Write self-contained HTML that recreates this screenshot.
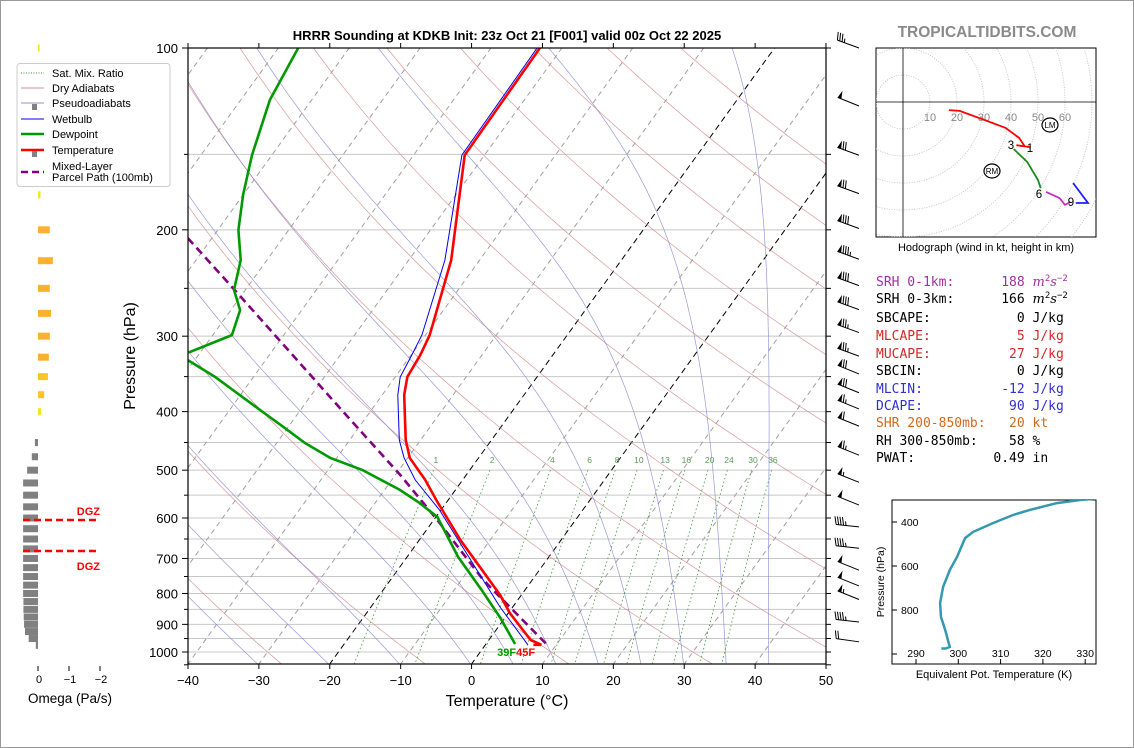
<!DOCTYPE html>
<html><head><meta charset="utf-8"><style>
html,body{margin:0;padding:0;background:#fff;}
svg{display:block;font-family:"Liberation Sans","DejaVu Sans",sans-serif;}
.mono{font-family:"DejaVu Sans Mono","Liberation Mono",monospace;}
</style></head><body>
<svg id="chart" width="1134" height="748" viewBox="0 0 1134 748" xmlns="http://www.w3.org/2000/svg">
<defs>
<clipPath id="plotclip"><rect x="188" y="48" width="638" height="616"/></clipPath>
<clipPath id="hodoclip"><rect x="876" y="48" width="220" height="189"/></clipPath>
<clipPath id="theclip"><rect x="892" y="500" width="204" height="164"/></clipPath>
</defs>
<rect x="0.5" y="0.5" width="1133" height="747" fill="#fff" stroke="#999"/>
<text x="507" y="40" text-anchor="middle" font-size="13" font-weight="bold">HRRR Sounding at KDKB Init: 23z Oct 21 [F001] valid 00z Oct 22 2025</text>
<text x="987" y="37" text-anchor="middle" font-size="15.5" font-weight="bold" fill="#8a8a8a">TROPICALTIDBITS.COM</text>
<g id="bg" clip-path="url(#plotclip)"></g>
<g id="series" clip-path="url(#plotclip)"></g>
<g id="axes"></g>
<text x="0" y="0" transform="translate(135,356) rotate(-90)" text-anchor="middle" font-size="16">Pressure (hPa)</text>
<text x="507" y="706" text-anchor="middle" font-size="16">Temperature (°C)</text>
<g id="omega"></g>
<text x="70" y="703" text-anchor="middle" font-size="13.5">Omega (Pa/s)</text>
<g id="legend"></g>
<g id="barbs"></g>
<g id="hodo"></g>
<text x="986" y="251" text-anchor="middle" font-size="11">Hodograph (wind in kt, height in km)</text>
<g class="mono" font-size="13">
<text x="876" y="286" fill="#a030a0" xml:space="preserve">SRH 0-1km:      188 <tspan font-style="italic" font-family="DejaVu Serif,serif">m</tspan><tspan font-size="9" dy="-5">2</tspan><tspan font-style="italic" dy="5" font-family="DejaVu Serif,serif">s</tspan><tspan font-size="9" dy="-5">−2</tspan></text>
<text x="876" y="303" fill="#000" xml:space="preserve">SRH 0-3km:      166 <tspan font-style="italic" font-family="DejaVu Serif,serif">m</tspan><tspan font-size="9" dy="-5">2</tspan><tspan font-style="italic" dy="5" font-family="DejaVu Serif,serif">s</tspan><tspan font-size="9" dy="-5">−2</tspan></text>
<text x="876" y="322" fill="#000" xml:space="preserve">SBCAPE:           0 J/kg</text>
<text x="876" y="340" fill="#d62728" xml:space="preserve">MLCAPE:           5 J/kg</text>
<text x="876" y="358" fill="#d62728" xml:space="preserve">MUCAPE:          27 J/kg</text>
<text x="876" y="375" fill="#000" xml:space="preserve">SBCIN:            0 J/kg</text>
<text x="876" y="393" fill="#3030d0" xml:space="preserve">MLCIN:          -12 J/kg</text>
<text x="876" y="410" fill="#3030d0" xml:space="preserve">DCAPE:           90 J/kg</text>
<text x="876" y="427" fill="#d2691e" xml:space="preserve">SHR 200-850mb:   20 kt</text>
<text x="876" y="445" fill="#000" xml:space="preserve">RH 300-850mb:    58 %</text>
<text x="876" y="462" fill="#000" xml:space="preserve">PWAT:          0.49 in</text>
</g>
<g id="thetae"></g>
<text x="0" y="0" transform="translate(884,582) rotate(-90)" text-anchor="middle" font-size="10.5">Pressure (hPa)</text>
<text x="994" y="678" text-anchor="middle" font-size="11">Equivalent Pot. Temperature (K)</text>
</svg>
<script>
// ---- data ----
const tempP=[100,150.4,224.5,298.8,322.3,350.5,375.4,445.7,477.3,518.8,560,652.5,804.8,861.8,955.6,973];
const tempT=[-53.1,-52.8,-44.0,-39.4,-38.7,-38.3,-36.9,-32.1,-29.7,-25.3,-21.7,-14.2,-3.0,0.2,5.9,7.9];
const dewP=[100,121.9,150.4,175.1,200.1,224.5,251.6,271.6,298.8,318.6,325,328.5,350.5,397.5,425.6,450.8,477.3,499.5,539.2,566.8,597.6,696,789.7,875.2,970];
const dewT=[-87.2,-85.9,-82.8,-80,-77.1,-73.7,-71.6,-68.7,-67.3,-71.5,-80,-71,-65.4,-55.7,-50.4,-46,-40.9,-35.2,-27.8,-23.7,-19.8,-12.8,-6.1,-0.8,4.1];
const wetP=[100,150.4,224.5,298.8,322.3,350.5,375.4,445.7,477.3,518.8,582,842.3,973];
const wetT=[-53.5,-53.2,-44.9,-40.5,-39.9,-39.3,-37.8,-33,-30.5,-26.7,-20.2,-1.8,6.0];
const parcelP=[206.4,251.6,310.2,397.5,509.3,604.6,760,973];
const parcelT=[-83.4,-71.5,-59.0,-44.2,-29.3,-19.5,-6.9,8.7];
const xTicks=[-40,-30,-20,-10,0,10,20,30,40,50];
const pTicks=[100,200,300,400,500,600,700,800,900,1000];
const mixRatios=[1,2,4,6,8,10,13,16,20,24,30,36];
const omegaP=[100,175,200,225,250,275,300,325,350,375,400,450,475,500,525,550,575,600,625,650,675,700,725,750,775,800,825,850,875,900,925,950,975];
const omegaV=[-0.05,-0.08,-0.38,-0.48,-0.38,-0.42,-0.38,-0.35,-0.32,-0.2,-0.1,0.1,0.2,0.35,0.48,0.48,0.48,0.48,0.48,0.48,0.48,0.48,0.48,0.48,0.48,0.48,0.47,0.47,0.46,0.45,0.42,0.3,0.07];
const omegaTicks=[0,-1,-2];
const barbP=[97,121,146,169,193,217,240,263,287,314,336,361,384,410,458,508,554,602,653,710,754,794,865,933];
const barbSpd=[35,50,70,70,80,85,80,80,75,75,70,70,65,60,65,55,50,45,45,50,50,55,45,20];
const barbDir=[290,292,290,290,290,290,290,290,290,290,292,292,292,292,292,292,292,276,276,292,292,292,276,278];
const hodoSeg1U=[17,21,30,38,43,45];
const hodoSeg1V=[-3,-3.3,-6.6,-9.6,-13.3,-16.3];
const hodoSeg2U=[47,42];
const hodoSeg2V=[-16.7,-16];
const hodoSeg3U=[41,46,50,51];
const hodoSeg3V=[-17.4,-22.2,-28.9,-31.9];
const hodoSeg4U=[53,58,60,62];
const hodoSeg4V=[-33.3,-35.6,-38.1,-37];
const hodoSeg5U=[64,68.5,63];
const hodoSeg5V=[-37.4,-37.4,-30];
const hodoRingLabels=[10,20,30,40,50,60];
const thetaE=[297,298.0,296.9,295.9,295.7,296.4,298.0,299.7,301.6,303.5,308.2,312.9,316.9,323.3,328.8,335];
const thetaEP=[975,968,891,832,768,695,618,559,473,445,405,368,345,314,300,290];
const thetaXTicks=[290,300,310,320,330];
const thetaYTicks=[400,600,800,1000];

// ---- helpers ----
const NS='http://www.w3.org/2000/svg';
function mk(parent,tag,attrs){const e=document.createElementNS(NS,tag);for(const k in attrs)e.setAttribute(k,attrs[k]);parent.appendChild(e);return e;}
function yP(p){return 48+604*Math.log10(p/100);}
function xT(T,p){return 188+(T+40)*7.089+(664-yP(p))*0.722;}
function pathTP(Ps,Ts){let d='';for(let i=0;i<Ps.length;i++)d+=(i?'L':'M')+xT(Ts[i],Ps[i]).toFixed(1)+','+yP(Ps[i]).toFixed(1);return d;}
function pathFn(f,p0,p1,step){let d='',first=true;for(let p=p0;step>0?p<=p1+1e-6:p>=p1-1e-6;p+=step){const T=f(p);d+=(first?'M':'L')+xT(T,p).toFixed(1)+','+yP(p).toFixed(1);first=false;}return d;}
function es(Tc){return 6.112*Math.exp(17.67*Tc/(Tc+243.5));}

const bg=document.getElementById('bg');
for(let p=100;p<=1050;p+=50){
  const l=mk(bg,'line',{x1:188,x2:826,y1:yP(p),y2:yP(p),stroke:'#c8c8c8','stroke-width':1});
  
  
}
for(let T=-130;T<=50;T+=10){
  const black=(T===0||T===-20);
  const l=mk(bg,'line',{x1:xT(T,1050),y1:yP(1050),x2:xT(T,100),y2:yP(100),stroke:black?'#000':'#a0a0a0','stroke-width':1,'stroke-dasharray':black?'6,4':'5,4'});
  
  
}
for(let th=-30;th<=200;th+=20){
  const f=p=>(th+273.15)*Math.pow(p/1000,0.2857)-273.15;
  const l=mk(bg,'path',{d:pathFn(f,100,1050,10),fill:'none',stroke:'#d08080','stroke-width':0.7,'stroke-opacity':0.8});
  
  
}
function moist(T0){
  const Rd=287.04,Cp=1005.7,Lv=2.501e6,eps=0.622;
  function dTdp(T,p){const Tc=T-273.15;const e=es(Tc);const rs=eps*e/(p-e);return (Rd*T+Lv*rs)/(Cp+Lv*Lv*rs*eps/(Rd*T*T))/p;}
  const pts=[];let T=T0+273.15;
  for(let p=1050;p>=100;p-=5){pts.push([p,T-273.15]);T-=dTdp(T,p)*5;}
  return pts;
}
[-30,-20,-10,0,6,12,18,24,30,36,42].forEach(t0=>{
  const pts=moist(t0);
  let d='';pts.forEach((q,i)=>{d+=(i?'L':'M')+xT(q[1],q[0]).toFixed(1)+','+yP(q[0]).toFixed(1);});
  const l=mk(bg,'path',{d:d,fill:'none',stroke:'#8080d0','stroke-width':0.7,'stroke-opacity':0.8});
  
  
});
mixRatios.forEach(w=>{
  const f=p=>{const e=w*p/(622+w);const a=Math.log(e/6.112);return 243.5*a/(17.67-a);};
  const l=mk(bg,'path',{d:pathFn(f,500,1050,10),fill:'none',stroke:'#3a9a3a','stroke-width':0.8,'stroke-dasharray':'1.5,2.5'});
  
  
  const t=mk(bg,'text',{x:xT(f(490),490),y:yP(490)-2,'text-anchor':'middle','font-size':8.5,fill:'#5a9a5a'});
  t.textContent=w;
  
  
});

const sr=document.getElementById('series');
let s=mk(sr,'path',{d:pathTP(parcelP,parcelT),fill:'none',stroke:'#800080','stroke-width':2.6,'stroke-dasharray':'8,5'});


s=mk(sr,'path',{d:pathTP(dewP,dewT),fill:'none',stroke:'#009a00','stroke-width':2.6});


s=mk(sr,'path',{d:pathTP(wetP,wetT),fill:'none',stroke:'#0000ee','stroke-width':1});


s=mk(sr,'path',{d:pathTP(tempP,tempT),fill:'none',stroke:'#ff0000','stroke-width':2.6});


const lastP=tempP[tempP.length-1];
s=mk(sr,'path',{d:'M'+(xT(tempT[tempT.length-1],lastP)-8)+','+yP(lastP)+'h8',stroke:'#ff0000','stroke-width':2.6,fill:'none'});


let lb=mk(sr,'text',{x:xT(dewT[dewT.length-1],975)+2,y:656,'text-anchor':'end','font-size':11,'font-weight':'bold',fill:'#009a00'});
lb.textContent='39F';


lb=mk(sr,'text',{x:xT(dewT[dewT.length-1],975)+2,y:656,'text-anchor':'start','font-size':11,'font-weight':'bold',fill:'#ff0000'});
lb.textContent='45F';



const ax=document.getElementById('axes');
let fr=mk(ax,'rect',{x:188,y:48,width:638,height:616,fill:'none',stroke:'#000','stroke-width':1.2});


xTicks.forEach(T=>{
  const x=188+(T+40)*7.089;
  let l=mk(ax,'line',{x1:x,x2:x,y1:664,y2:669,stroke:'#000'});
  
  
  l=mk(ax,'line',{x1:x,x2:x,y1:48,y2:43,stroke:'#000'});
  
  
  const t=mk(ax,'text',{x:x,y:685,'text-anchor':'middle','font-size':13});
  t.textContent=(T<0?'\u2212'+(-T):T);
  
  
});
for(let p=100;p<=1050;p+=50){
  const major=pTicks.includes(p);
  let l=mk(ax,'line',{x1:188,x2:major?182:184,y1:yP(p),y2:yP(p),stroke:'#000'});
  
  
  l=mk(ax,'line',{x1:826,x2:831,y1:yP(p),y2:yP(p),stroke:'#000'});
  
  
}
pTicks.forEach(p=>{
  const t=mk(ax,'text',{x:178,y:yP(p)+5,'text-anchor':'end','font-size':13});
  t.textContent=p;
  
  
});

const om=document.getElementById('omega');
const ox0=38,oScale=31;
function omegaColor(v){if(v>=0)return '#808080';const a=Math.min(1,-v/0.5);return a<0.3?'#f5e61e':(a<0.7?'#fcc42a':'#fbb030');}
omegaP.forEach((p,i)=>{
  const v=omegaV[i];const w=Math.abs(v)*oScale;
  const x=v>=0?ox0-w:ox0;
  const r=mk(om,'rect',{x:x,y:yP(p)-3.5,width:Math.max(w,1.5),height:7,fill:omegaColor(v)});
  
  
});
omegaTicks.forEach(v=>{
  const x=ox0-v*oScale;
  let l=mk(om,'line',{x1:x,x2:x,y1:666,y2:671,stroke:'#000'});
  
  
  const t=mk(om,'text',{x:x+1,y:683,'text-anchor':'middle','font-size':11});
  t.textContent=v===0?'0':'\u2212'+(-v);
  
  
});
[[520,511],[551,566]].forEach(q=>{
  const l=mk(om,'line',{x1:23,x2:98,y1:q[0],y2:q[0],stroke:'#ff0000','stroke-width':2.5,'stroke-dasharray':'7,4'});
  
  
  const t=mk(om,'text',{x:100,y:q[1]+4,'text-anchor':'end','font-size':11,'font-weight':'bold',fill:'#ff0000'});
  t.textContent='DGZ';
  
  
});

const lg=document.getElementById('legend');
let lr=mk(lg,'rect',{x:17,y:63.5,width:153,height:123,rx:3,fill:'#fff','fill-opacity':0.85,stroke:'#ccc'});


const legItems=[
 ['Sat. Mix. Ratio',73,{stroke:'#3a9a3a','stroke-width':1,'stroke-dasharray':'1,1.5'},false],
 ['Dry Adiabats',88,{stroke:'#d09090','stroke-width':1},false],
 ['Pseudoadiabats',103,{stroke:'#9090d0','stroke-width':1},true],
 ['Wetbulb',119,{stroke:'#0000ee','stroke-width':1},false],
 ['Dewpoint',134,{stroke:'#009a00','stroke-width':2.6},false],
 ['Temperature',150,{stroke:'#ff0000','stroke-width':2.6},true],
 ['Mixed-Layer',166,{stroke:'#800080','stroke-width':2.6,'stroke-dasharray':'7,4'},false]
];
legItems.forEach(it=>{
  const ly=it[0]==='Mixed-Layer'?172:it[1];
  const a=Object.assign({x1:21,x2:44,y1:ly,y2:ly},it[2]);
  const l=mk(lg,'line',a);
  
  
  if(it[3]){const m=mk(lg,'rect',{x:32,y:ly+1,width:5,height:6,fill:'#808080'});
    
    }
  const t=mk(lg,'text',{x:52,y:it[1]+4,'font-size':11});
  t.textContent=it[0];
  
  
});
let lt=mk(lg,'text',{x:52,y:181,'font-size':11});
lt.textContent='Parcel Path (100mb)';



const bb=document.getElementById('barbs');
barbP.forEach((p,i)=>{
  const spd=barbSpd[i],dir=barbDir[i]*Math.PI/180;
  const bx=859,by=yP(p)+8;
  const L=23;
  const ex=Math.sin(dir),ey=-Math.cos(dir);
  const tx=bx+ex*L, ty=by+ey*L;
  const px=-ey,py=ex;
  const g=mk(bb,'g',{});
  
  
  mk(g,'line',{x1:bx,y1:by,x2:tx,y2:ty,stroke:'#000','stroke-width':1});
  let rem=Math.round(spd/5)*5,pos=0;
  const fl=8;
  while(rem>=50){
    const ax1=tx-ex*pos,ay1=ty-ey*pos;
    const ax2=tx-ex*(pos+4),ay2=ty-ey*(pos+4);
    mk(g,'polygon',{points:`${ax1},${ay1} ${ax1+px*fl-ex*2},${ay1+py*fl-ey*2} ${ax2},${ay2}`,fill:'#000'});
    pos+=5;rem-=50;
  }
  if(pos>0)pos+=1;
  while(rem>=10){
    const ax1=tx-ex*pos,ay1=ty-ey*pos;
    mk(g,'line',{x1:ax1,y1:ay1,x2:ax1+px*fl+ex*2,y2:ay1+py*fl+ey*2,stroke:'#000','stroke-width':1});
    pos+=2.5;rem-=10;
  }
  if(rem>=5){
    if(pos===0)pos=2.5;
    const ax1=tx-ex*pos,ay1=ty-ey*pos;
    mk(g,'line',{x1:ax1,y1:ay1,x2:ax1+px*fl*0.5+ex,y2:ay1+py*fl*0.5+ey,stroke:'#000','stroke-width':1});
  }
});

const hd=document.getElementById('hodo');
const hx0=903,hy0=102,hs=2.7;
const hb=mk(hd,'rect',{x:876,y:48,width:220,height:189,fill:'#fff',stroke:'#000','stroke-width':1});


const hg=mk(hd,'g',{'clip-path':'url(#hodoclip)'});


for(let r=10;r<=90;r+=10){
  const c=mk(hg,'circle',{cx:hx0,cy:hy0,r:r*hs,fill:'none',stroke:'#bbb','stroke-width':0.8,'stroke-dasharray':'1,1.5'});
  
  
}
let hl=mk(hg,'line',{x1:876,x2:1096,y1:hy0,y2:hy0,stroke:'#000','stroke-width':0.8});


hl=mk(hg,'line',{x1:hx0,x2:hx0,y1:48,y2:237,stroke:'#000','stroke-width':0.8});


hodoRingLabels.forEach(r=>{
  const t=mk(hg,'text',{x:hx0+r*hs,y:hy0+19,'text-anchor':'middle','font-size':11,fill:'#888'});
  t.textContent=r;
  
  
});
function hpath(U,V){let d='';U.forEach((u,i)=>{d+=(i?'L':'M')+(hx0+u*hs).toFixed(1)+','+(hy0-V[i]*hs).toFixed(1);});return d;}
[[hodoSeg1U,hodoSeg1V,'#ff0000','hodograph-0-1km'],[hodoSeg2U,hodoSeg2V,'#ff0000','hodograph-1-3km'],[hodoSeg3U,hodoSeg3V,'#1a8a1a','hodograph-3-6km'],[hodoSeg4U,hodoSeg4V,'#c030c0','hodograph-6-9km'],[hodoSeg5U,hodoSeg5V,'#2020ff','hodograph-9km-plus']].forEach(sg=>{
  const l=mk(hg,'path',{d:hpath(sg[0],sg[1]),fill:'none',stroke:sg[2],'stroke-width':1.8});
  
  
});
[['1',1030,152],['3',1011,149],['6',1039,198],['9',1071,206]].forEach(q=>{
  const t=mk(hg,'text',{x:q[1],y:q[2],'text-anchor':'middle','font-size':11.5});
  t.textContent=q[0];
  
  
});
[['LM',1050,125],['RM',992,171]].forEach(q=>{
  const c=mk(hg,'ellipse',{cx:q[1],cy:q[2],rx:8,ry:7,fill:'#fff',stroke:'#000','stroke-width':1.2});
  
  
  const t=mk(hg,'text',{x:q[1],y:q[2]+3,'text-anchor':'middle','font-size':8});
  t.textContent=q[0];
  
  
});

const te=document.getElementById('thetae');
const tX=v=>916+(v-290)*4.23, tY=p=>522+(p-400)*0.22;
const tb=mk(te,'rect',{x:892,y:500,width:204,height:164,fill:'#fff',stroke:'#000','stroke-width':1});


thetaXTicks.forEach(v=>{
  let l=mk(te,'line',{x1:tX(v),x2:tX(v),y1:664,y2:659,stroke:'#000'});
  
  
  const t=mk(te,'text',{x:tX(v),y:657,'text-anchor':'middle','font-size':10.5});
  t.textContent=v;
  
  
});
thetaYTicks.forEach(p=>{
  let l=mk(te,'line',{x1:892,x2:897,y1:tY(p),y2:tY(p),stroke:'#000'});
  
  
  if(p<1000){const t=mk(te,'text',{x:901,y:tY(p)+4,'font-size':10.5});
  t.textContent=p;
  
  }
});
let td='';thetaE.forEach((v,i)=>{td+=(i?'L':'M')+tX(v).toFixed(1)+','+tY(thetaEP[i]).toFixed(1);});
const tl=mk(te,'path',{d:'M'+tX(296)+','+tY(975)+'L'+td.slice(1),fill:'none',stroke:'#3399b0','stroke-width':2.5,'clip-path':'url(#theclip)'});


</script>
</body></html>
